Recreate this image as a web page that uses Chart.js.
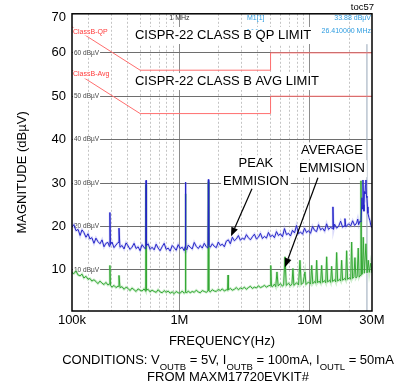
<!DOCTYPE html>
<html><head><meta charset="utf-8">
<style>html,body{margin:0;padding:0;background:#fff;} canvas{display:block;}</style>
<script src="https://cdn.jsdelivr.net/npm/chart.js@4.4.1/dist/chart.umd.min.js"></script>
</head><body>
<canvas id="c" width="405" height="390" style="width:405px;height:390px"></canvas>
<script>
const FONT = '"Liberation Sans", Arial, sans-serif';

// ---- axes ----
const xTickKHz = [150,200,300,400,500,600,700,800,900,1000,2000,3000,4000,5000,6000,7000,8000,9000,10000,20000,30000];
const xTickLabels = {150:'100k', 1000:'1M', 10000:'10M', 30000:'30M'};
const xMajorKHz = [1000, 10000];
const yTickValues = [10,20,30,40,50,60,68.2];
const yTickLabels = ['10','20','30','40','50','60','70'];
const gridLevels = [10,20,30,40,50,60];

// ---- limit lines (kHz, dBuV) ----
const qpLimit  = [[150,66],[500,56],[5000,56],[5000,60],[30000,60]];
const avgLimit = [[150,56],[500,46],[5000,46],[5000,50],[30000,50]];
const markerLine = [[27440,0.5],[27440,62]];

// ---- measured traces (kHz, dBuV) ----
const peakEmission = [[150,19.8],[155,20.4],[161,19.0],[167,19.3],[173,17.9],[179,19.2],[185,18.6],[192,17.5],[199,18.3],[206,17.1],[213,17.4],[221,16.1],[229,17.3],[237,16.5],[246,16.0],[255,16.9],[264,15.3],[273,16.1],[283,16.3],[290,15.4],[293,23.2],[296,15.8],[304,16.4],[315,15.1],[326,15.7],[338,16.3],[344,19.6],[350,15.2],[363,15.6],[376,14.8],[390,16.2],[404,15.5],[418,14.7],[433,15.2],[449,16.1],[465,14.9],[482,15.3],[499,14.4],[517,15.8],[536,15.1],[552,14.8],[555,30.6],[558,15.5],[575,16.0],[596,14.7],[617,15.2],[640,14.6],[663,15.9],[687,15.0],[711,14.4],[737,15.3],[764,16.1],[791,14.7],[820,15.0],[849,14.3],[880,15.6],[912,15.1],[945,14.5],[979,15.8],[1014,14.9],[1050,15.2],[1088,14.4],[1105,15.3],[1112,30.2],[1120,15.0],[1140,14.6],[1168,15.7],[1210,15.2],[1254,14.8],[1299,16.3],[1346,15.4],[1395,14.9],[1445,15.6],[1497,15.0],[1551,16.1],[1607,15.3],[1655,15.0],[1667,30.8],[1680,15.7],[1725,15.2],[1787,16.0],[1852,15.4],[1918,15.1],[1988,16.4],[2059,15.6],[2134,15.9],[2211,15.3],[2290,16.6],[2373,16.9],[2458,16.0],[2547,17.5],[2639,16.7],[2734,17.1],[2833,17.9],[2935,16.8],[3040,17.3],[3150,17.0],[3264,18.1],[3381,17.4],[3503,16.9],[3629,17.6],[3760,18.2],[3896,17.1],[4036,17.5],[4182,18.4],[4332,17.2],[4489,17.7],[4650,17.3],[4818,18.6],[4992,17.6],[5171,18.0],[5358,17.4],[5551,18.8],[5751,17.9],[5958,18.3],[6173,17.6],[6395,19.5],[6626,18.1],[6864,18.4],[7112,17.8],[7368,19.1],[7634,18.5],[7909,20.2],[8194,18.3],[8489,18.7],[8795,18.2],[9112,19.6],[9441,18.6],[9781,19.0],[10134,18.4],[10499,20.0],[10877,19.1],[11269,18.8],[11676,20.4],[12096,19.2],[12532,19.6],[12984,18.9],[13452,20.6],[13937,19.3],[14439,19.8],[14900,19.5],[15050,24.5],[15200,19.3],[15499,20.5],[16057,19.6],[16636,20.0],[17236,21.2],[17857,19.8],[18300,20.1],[18600,21.8],[18900,19.9],[19858,20.6],[20574,20.1],[21316,21.3],[22084,20.2],[22880,20.8],[23320,21.7],[23705,20.4],[24200,21.2],[24700,21.0],[25120,26.6],[25350,24.0],[25570,30.7],[25800,25.0],[26030,23.5],[26250,28.0],[26490,27.5],[26700,29.5],[26960,30.7],[27200,27.0],[27440,26.6],[27700,24.5],[27930,23.0],[28430,22.0],[28940,21.3],[29400,20.2],[30000,19.7]];

const avgEmission = [[150,9.4],[155,9.1],[161,9.7],[167,8.8],[173,8.6],[179,9.0],[185,8.1],[192,8.5],[199,7.8],[206,8.0],[213,7.4],[221,7.7],[229,7.3],[237,6.8],[246,7.4],[255,6.9],[264,6.6],[273,7.1],[283,6.5],[290,6.7],[293,11.0],[296,6.4],[304,6.0],[315,6.4],[326,5.9],[338,6.2],[344,8.7],[350,5.9],[363,6.1],[376,5.5],[390,6.0],[404,5.7],[418,5.2],[433,5.8],[449,5.4],[465,5.0],[482,5.6],[499,5.3],[517,5.1],[536,5.6],[552,5.0],[555,29.6],[558,5.3],[575,5.5],[596,4.9],[617,5.3],[640,5.0],[663,4.8],[687,5.4],[711,4.9],[737,4.7],[764,5.2],[791,4.8],[820,5.1],[849,4.6],[880,4.9],[912,4.5],[945,5.0],[979,4.7],[1014,4.6],[1050,5.1],[1088,4.6],[1105,4.8],[1112,27.5],[1120,4.9],[1140,4.7],[1168,5.1],[1210,4.7],[1254,5.0],[1299,4.8],[1346,5.3],[1395,4.9],[1445,4.7],[1497,5.2],[1551,5.0],[1607,4.8],[1655,5.1],[1667,30.3],[1680,5.2],[1725,4.9],[1787,5.4],[1852,5.1],[1918,5.0],[1988,5.5],[2059,5.2],[2134,5.6],[2211,5.1],[2290,5.4],[2340,5.3],[2360,8.8],[2380,5.4],[2458,5.7],[2547,5.3],[2639,5.5],[2734,5.9],[2833,5.4],[2935,5.8],[3040,5.6],[3150,6.0],[3264,5.5],[3381,5.9],[3503,6.2],[3629,5.7],[3760,6.0],[3896,5.8],[4036,6.3],[4182,5.9],[4332,6.1],[4489,6.4],[4650,6.0],[4818,6.3],[4960,6.4],[5020,11.0],[5080,6.2],[5171,6.1],[5358,6.7],[5480,6.1],[5600,9.5],[5720,6.3],[5958,6.8],[6173,6.2],[6300,6.5],[6449,13.0],[6600,6.4],[6864,6.9],[7112,6.3],[7300,6.8],[7427,10.3],[7550,6.4],[7909,7.0],[8200,6.5],[8404,12.2],[8600,6.6],[8900,7.1],[9181,9.5],[9350,6.6],[9781,7.2],[10134,6.7],[10340,11.0],[10550,6.8],[10877,7.3],[11100,6.9],[11290,12.2],[11480,7.0],[11800,7.4],[12100,6.9],[12330,11.0],[12550,7.1],[12984,7.5],[13250,7.0],[13470,13.0],[13700,7.2],[14200,7.6],[14450,7.1],[14710,10.8],[14950,7.3],[15499,7.7],[15800,7.2],[16070,14.0],[16350,7.4],[16900,7.8],[17250,7.4],[17550,12.2],[17850,7.6],[18500,8.0],[18850,7.6],[19170,14.4],[19500,7.8],[20200,8.2],[20600,7.8],[20940,16.4],[21300,8.0],[21800,8.4],[22200,12.8],[22600,8.1],[23100,8.5],[23530,15.0],[23900,8.3],[24300,8.7],[24690,30.5],[24950,8.9],[25300,9.0],[25700,17.5],[26200,9.2],[26950,16.0],[27500,9.3],[28080,12.2],[28600,9.4],[29290,11.5],[30000,9.3]];

// ---- annotation texts (anchored in data units: kHz, dBuV) ----
const limitTitles = [
  {text:'CISPR-22 CLASS B QP LIMIT', f:456, db:64.0},
  {text:'CISPR-22 CLASS B AVG LIMIT', f:456, db:53.4}
];
const traceNotes = [
  {lines:['PEAK','EMMISION'], f:3864, db:[34.4,30.3], from:[3601,28.7], to:[2486,17.7]},
  {lines:['AVERAGE','EMMISION'], f:14790, db:[37.4,33.3], from:[11550,31.2], to:[6449,10.6]}
];
const limitLabels = [{text:'ClassB-QP', db:64.9},{text:'ClassB-Avg', db:55.0}];
const markerTexts = {name:'M1[1]', nameF:3297, level:'33.88 dBµV', freq:'26.410000 MHz', db1:68.1, db2:65.1};
const conditionParts = [
  {t:'CONDITIONS: V'},{t:'OUTB',sub:true},{t:' = 5V, I'},{t:'OUTB',sub:true},
  {t:' = 100mA, I'},{t:'OUTL',sub:true},{t:' = 50mA'}
];
const conditionLine2 = 'FROM MAXM17720EVKIT#';

const toXY = arr => arr.map(([x, y]) => ({x, y}));

function arrow(ctx, x1, y1, x2, y2) {
  const a = Math.atan2(y2 - y1, x2 - x1), L = 9, W = 3.5;
  const bx = x2 - L * Math.cos(a), by = y2 - L * Math.sin(a);
  ctx.strokeStyle = '#000'; ctx.lineWidth = 1.2;
  ctx.beginPath(); ctx.moveTo(x1, y1); ctx.lineTo(bx, by); ctx.stroke();
  ctx.beginPath(); ctx.moveTo(x2, y2);
  ctx.lineTo(bx + W * Math.sin(a), by - W * Math.cos(a));
  ctx.lineTo(bx - W * Math.sin(a), by + W * Math.cos(a));
  ctx.closePath(); ctx.fillStyle = '#000'; ctx.fill();
}
function boxedText(ctx, text, x, y, align, h, pad) {
  const w = ctx.measureText(text).width;
  const left = align === 'left' ? x : align === 'right' ? x - w : x - w / 2;
  ctx.fillStyle = '#fff';
  ctx.fillRect(left - pad, y - h / 2, w + 2 * pad, h);
  return left;
}

const overlay = {
  id: 'overlay',
  beforeDatasetsDraw(chart) {
    const {ctx, chartArea: a, scales: {y}} = chart;
    ctx.save();
    ctx.font = '6.5px ' + FONT;
    ctx.textBaseline = 'middle'; ctx.textAlign = 'left';
    gridLevels.forEach(v => {
      const py = y.getPixelForValue(v);
      const t = v + ' dBµV';
      boxedText(ctx, t, a.left + 2, py, 'left', 7, 1);
      ctx.fillStyle = '#444';
      ctx.fillText(t, a.left + 2, py);
    });
    ctx.restore();
  },
  afterDatasetsDraw(chart) {
    const {ctx, chartArea: a, scales: {x, y}} = chart;
    ctx.save();
    ctx.textBaseline = 'middle';
    ctx.font = '13px ' + FONT;
    limitTitles.forEach(n => {
      const px = x.getPixelForValue(n.f), py = y.getPixelForValue(n.db);
      boxedText(ctx, n.text, px, py, 'left', 17, 2);
      ctx.fillStyle = '#000'; ctx.textAlign = 'left';
      ctx.fillText(n.text, px, py);
    });
    traceNotes.forEach(n => {
      const px = x.getPixelForValue(n.f);
      ctx.font = '13px ' + FONT; ctx.textAlign = 'center';
      n.lines.forEach((t, i) => {
        boxedText(ctx, t, px, y.getPixelForValue(n.db[i]), 'center', 17, 2);
      });
      n.lines.forEach((t, i) => {
        ctx.fillStyle = '#000';
        ctx.fillText(t, px, y.getPixelForValue(n.db[i]));
      });
      arrow(ctx, x.getPixelForValue(n.from[0]), y.getPixelForValue(n.from[1]),
                 x.getPixelForValue(n.to[0]), y.getPixelForValue(n.to[1]));
    });
    ctx.font = '7px ' + FONT; ctx.textAlign = 'left';
    limitLabels.forEach(l => {
      const py = y.getPixelForValue(l.db);
      boxedText(ctx, l.text, a.left + 1, py, 'left', 8, 0.5);
      ctx.fillStyle = '#ff3b3b';
      ctx.fillText(l.text, a.left + 1, py);
    });
    ctx.fillStyle = '#333'; ctx.textAlign = 'center';
    ctx.fillText('1 MHz', x.getPixelForValue(1000), y.getPixelForValue(68.1));
    ctx.fillStyle = '#2f9de0';
    ctx.textAlign = 'left';
    const mx = x.getPixelForValue(markerTexts.nameF);
    ctx.fillText(markerTexts.name, mx, y.getPixelForValue(markerTexts.db1));
    ctx.fillText('- - - -', mx, y.getPixelForValue(markerTexts.db2) - 2);
    ctx.textAlign = 'right';
    ctx.fillText(markerTexts.level, a.right - 1, y.getPixelForValue(markerTexts.db1));
    ctx.fillText(markerTexts.freq, a.right - 1, y.getPixelForValue(markerTexts.db2));
    ctx.strokeStyle = '#000'; ctx.lineWidth = 1.5;
    ctx.strokeRect(a.left, a.top, a.right - a.left, a.bottom - a.top);
    ctx.restore();
  },
  afterDraw(chart) {
    const {ctx, chartArea: a} = chart;
    ctx.save();
    ctx.fillStyle = '#000'; ctx.textBaseline = 'middle';
    ctx.font = '9.5px ' + FONT; ctx.textAlign = 'right';
    ctx.fillText('toc57', a.right + 2, a.top - 6);
    ctx.font = '13px ' + FONT; ctx.textAlign = 'center';
    const cx = (a.left + a.right) / 2;
    ctx.fillText('FREQUENCY(Hz)', cx, a.bottom + 30);
    ctx.save();
    ctx.translate(22, (a.top + a.bottom) / 2 + 10);
    ctx.rotate(-Math.PI / 2);
    ctx.fillText('MAGNITUDE (dBµV)', 0, 0);
    ctx.restore();
    const mainF = '13px ' + FONT, subF = '9.5px ' + FONT;
    let total = 0;
    conditionParts.forEach(p => { ctx.font = p.sub ? subF : mainF; total += ctx.measureText(p.t).width; });
    let px = 228 - total / 2;
    const py = a.bottom + 49;
    ctx.textAlign = 'left';
    conditionParts.forEach(p => {
      ctx.font = p.sub ? subF : mainF;
      ctx.fillText(p.t, px, p.sub ? py + 7 : py);
      px += ctx.measureText(p.t).width;
    });
    ctx.font = mainF; ctx.textAlign = 'center';
    ctx.fillText(conditionLine2, 228, a.bottom + 66);
    ctx.restore();
  }
};

new Chart(document.getElementById('c'), {
  type: 'line',
  data: {
    datasets: [
      {data: toXY(peakEmission), borderColor: '#2525c8', borderWidth: 1, pointRadius: 0, tension: 0},
      {data: toXY(avgEmission), borderColor: '#35a835', borderWidth: 1, pointRadius: 0, tension: 0},
      {data: toXY(peakEmission), borderColor: 'rgba(150,150,240,0.35)', borderWidth: 2.5, pointRadius: 0, tension: 0},
      {data: toXY(avgEmission), borderColor: 'rgba(130,210,130,0.4)', borderWidth: 2.5, pointRadius: 0, tension: 0},
      {data: toXY(qpLimit), borderColor: '#ff6e6e', borderWidth: 1, pointRadius: 0, tension: 0},
      {data: toXY(avgLimit), borderColor: '#ff6e6e', borderWidth: 1, pointRadius: 0, tension: 0},
      {data: toXY(markerLine), borderColor: '#97a7b8', borderWidth: 1, pointRadius: 0, tension: 0}
    ]
  },
  options: {
    responsive: false, animation: false,
    layout: {padding: {top: 12, right: 33, bottom: 0, left: 0}},
    plugins: {legend: {display: false}, tooltip: {enabled: false}},
    scales: {
      x: {
        type: 'logarithmic', min: 150, max: 30000,
        afterBuildTicks: s => { s.ticks = xTickKHz.map(v => ({value: v})); },
        afterFit: s => { s.height = 79; },
        ticks: {autoSkip: false, maxRotation: 0, minRotation: 0, padding: 2, color: '#000',
                font: {family: FONT, size: 13},
                callback: v => xTickLabels[v] || ''},
        grid: {drawTicks: false, lineWidth: 1,
               color: c => (c.tick.value === 150 || c.tick.value === 30000) ? 'rgba(0,0,0,0)' :
                           xMajorKHz.includes(c.tick.value) ? '#8c8c8c' : '#c4c4c4'},
        border: {display: false, dash: c => (c.tick && xMajorKHz.includes(c.tick.value)) ? [] : [2, 2]}
      },
      y: {
        type: 'linear', min: 0.5, max: 69,
        afterBuildTicks: s => { s.ticks = yTickValues.map(v => ({value: v})); },
        afterFit: s => { s.width = 72; },
        ticks: {padding: 6, color: '#000', font: {family: FONT, size: 13},
                callback: (v, i) => yTickLabels[i]},
        grid: {drawTicks: false, lineWidth: 1,
               color: c => gridLevels.includes(c.tick.value) ? '#6e6e6e' : 'rgba(0,0,0,0)'},
        border: {display: false}
      }
    }
  },
  plugins: [overlay]
});
</script>
</body></html>
